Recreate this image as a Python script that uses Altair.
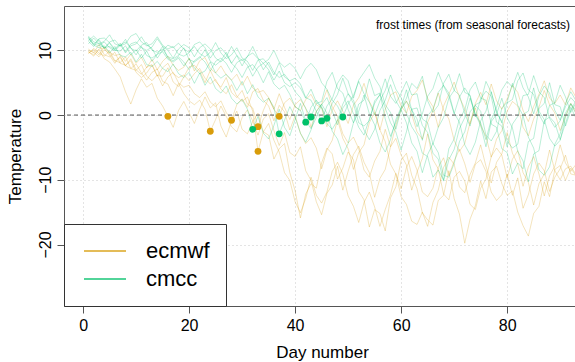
import altair as alt
import pandas as pd

# ---------------- data ----------------
days = list(range(1, 94))
models = ["ecmwf", "cmcc"]
model_colors = ["#D89C0A", "#00C16A"]

ecmwf_m1 = [9.8, 9.3, 10.1, 8.7, 8.2, 7.1, 5.9, 3.6, 1.7, 3.9,
            5.6, 4.3, 4.9, 2.6, 1.4, -0.2, -1.9, 0.7, 2.1, 0.4,
            -1.3, 0.9, 2.8, 1.1, 1.9, -1.7, -3.4, -0.9, 0.6, -2.2,
            -2.9, -1.0, 0.3, -2.6, -3.1, -6.8, -5.2, -4.4, -8.9, -11.7,
            -15.9, -12.2, -10.6, -11.3, -7.4, -5.1, -6.0, -9.9, -8.2, -5.7,
            -6.9, -11.8, -13.1, -17.3, -14.6, -15.2, -17.9, -12.8, -11.1, -7.0,
            -5.9, -9.3, -11.4, -15.1, -16.2, -17.0, -13.2, -12.4, -8.6, -12.9,
            -15.3, -19.8, -16.1, -14.0, -10.2, -12.9, -8.8, -7.9, -10.6, -12.4,
            -11.7, -15.0, -17.1, -18.7, -15.2, -14.1, -10.3, -12.6, -8.4, -7.8,
            -10.1, -8.2, -9.4]
ecmwf_m2 = [10.0, 9.7, 9.0, 10.1, 9.5, 8.3, 8.9, 7.6, 7.2, 7.9,
            6.5, 5.4, 6.6, 7.1, 5.2, 4.8, 3.0, 4.9, 3.3, 2.2,
            1.6, 2.3, 0.9, -2.5, -0.7, 1.4, -0.2, -1.8, -2.6, -0.4,
            0.8, -0.9, -3.1, -0.6, 0.2, -2.4, -4.7, -2.7, -5.8, -6.4,
            -4.9, -8.6, -10.1, -13.4, -15.4, -12.1, -10.8, -7.9, -11.6, -8.7,
            -6.1, -4.8, -7.3, -8.9, -12.7, -9.8, -8.4, -4.9, -3.6, -6.2,
            -7.7, -11.6, -8.8, -6.7, -2.9, -6.9, -8.3, -12.2, -13.1, -9.6,
            -8.7, -10.2, -13.8, -14.6, -11.3, -9.9, -6.4, -5.1, -6.2, -9.7,
            -6.8, -5.5, -8.9, -10.4, -13.9, -10.6, -9.1, -5.4, -8.6, -10.0,
            -8.3, -7.9, -9.2]
ecmwf_m3 = [9.5, 10.3, 9.6, 9.1, 9.9, 8.4, 8.1, 9.0, 7.2, 6.9,
            7.8, 6.0, 5.3, 6.2, 4.5, 5.9, 6.6, 5.0, 4.3, 4.6,
            3.3, 2.7, 3.6, 2.0, 1.3, 2.2, 0.4, -0.8, 1.6, 2.5,
            1.2, 3.6, 4.1, 2.3, 1.4, -0.9, 1.5, 0.5, -2.3, -0.1,
            -2.8, -4.4, -3.5, -5.1, -8.3, -5.4, -3.9, -0.7, -3.6, -5.2,
            -8.4, -5.8, -4.6, -1.2, 0.4, -2.3, -4.1, -7.6, -9.1, -12.6,
            -13.8, -16.4, -16.9, -15.0, -17.2, -13.5, -11.6, -8.1, -6.5, -7.6,
            -11.1, -12.0, -9.2, -7.4, -4.6, -7.9, -10.5, -7.3, -6.0, -2.7,
            -5.9, -7.6, -11.0, -8.0, -6.4, -9.1, -12.5, -9.4, -7.9, -4.6,
            -7.4, -8.7, -7.6]
ecmwf_m4 = [9.8, 9.1, 10.2, 10.4, 9.2, 8.0, 9.1, 7.6, 8.7, 7.0,
            6.3, 7.4, 7.8, 6.1, 6.0, 7.3, 5.1, 4.4, 5.9, 7.4,
            7.7, 6.8, 5.0, 6.9, 5.2, 4.3, 5.8, 3.5, 2.7, 3.8,
            1.7, 1.1, -1.8, 0.7, 2.6, 0.9, 3.3, 1.2, -0.7, 1.6,
            2.4, 1.1, -1.9, 0.6, 1.7, 3.9, 1.3, -0.2, -2.9, -4.3,
            -3.4, -5.2, -8.5, -9.6, -7.1, -5.6, -2.2, -4.9, -1.6, 0.9,
            2.2, 0.1, -2.6, -3.7, -1.1, 0.7, 3.4, 0.8, -0.6, -3.9,
            -5.6, -4.4, -1.2, 1.1, -1.6, -3.3, -6.5, -3.7, -2.4, 0.6,
            2.1, 1.4, -1.9, -3.2, -0.6, 1.2, 3.8, 1.6, 0.3, -2.4,
            -0.2, 1.8, 0.3]
ecmwf_m5 = [10.2, 9.6, 10.9, 9.3, 9.0, 9.7, 8.0, 7.7, 8.4, 6.6,
            5.8, 6.5, 7.7, 6.0, 7.3, 8.0, 6.4, 5.8, 6.2, 5.3,
            6.4, 7.2, 5.7, 4.8, 5.5, 4.0, 3.3, 4.7, 2.9, 2.1,
            2.8, 0.6, -5.6, -2.6, -1.3, -3.9, -5.7, -8.9, -10.1, -13.4,
            -15.1, -12.9, -9.6, -12.4, -13.6, -11.9, -8.7, -7.3, -9.1, -12.5,
            -14.1, -16.6, -13.5, -11.9, -14.2, -17.2, -14.6, -12.3, -9.0, -11.4,
            -8.1, -6.4, -8.5, -11.9, -12.6, -11.3, -8.1, -6.6, -9.4, -7.1,
            -5.3, -7.5, -10.4, -7.6, -6.9, -8.7, -11.9, -13.2, -12.3, -9.1,
            -12.4, -9.7, -14.4, -12.3, -9.1, -7.4, -8.6, -11.8, -9.6, -8.3,
            -6.2, -9.1, -9.3]
ecmwf_m6 = [9.6, 10.1, 9.3, 10.5, 9.7, 9.2, 9.4, 8.3, 9.4, 8.0,
            8.9, 7.3, 8.6, 7.0, 8.3, 9.1, 7.7, 6.9, 7.4, 8.8,
            6.8, 8.4, 8.9, 7.2, 6.5, 7.6, 6.2, 5.4, 6.3, 4.6,
            6.0, 4.2, 3.5, 3.8, 2.7, 0.9, -0.2, 1.9, 2.6, 1.3,
            0.7, 2.4, 3.2, 1.6, 1.1, -1.8, 0.8, 2.2, 0.6, -1.3,
            1.5, 2.7, 4.9, 2.1, 0.6, -2.3, 0.9, 3.1, 3.6, 1.4,
            0.3, 2.9, 3.8, 5.4, 2.6, 1.3, -1.9, 1.4, 3.2, 5.1,
            2.7, 1.0, -1.4, 1.8, 3.5, 1.6, 4.8, 2.2, 0.9, 2.5,
            4.6, 3.5, 0.7, -1.0, 1.3, 3.2, 5.3, 2.6, 1.8, 3.1,
            1.6, 4.2, 2.7]

cmcc_m1 = [12.0, 10.8, 10.4, 10.7, 9.6, 10.6, 9.2, 9.0, 9.7, 8.2,
           9.4, 7.8, 7.5, 8.3, 7.2, 6.7, 7.9, 6.4, 5.8, 6.6,
           4.9, 6.5, 4.6, 5.9, 4.1, 3.4, 4.5, 2.6, 1.7, 2.4,
           0.9, -2.2, -0.2, -2.8, -3.7, -1.6, 0.9, -1.9, -3.2, -0.7,
           1.8, -0.9, -2.1, -0.4, 1.6, 2.7, 0.6, -1.5, 1.1, 2.2,
           0.2, -1.9, -3.1, -0.6, 1.8, 3.2, 1.1, -1.2, -2.6, -5.4,
           -2.6, 0.9, 1.1, -1.6, -2.7, -5.9, -6.8, -10.2, -6.9, -5.3,
           -2.1, -0.4, 2.6, 0.1, -1.6, -4.9, -1.0, 0.1, 2.6, -0.4,
           -2.0, -5.6, -7.1, -10.3, -6.0, -5.5, -0.9, -0.3, -1.2, -3.8,
           -1.3, 1.2, -0.5]
cmcc_m2 = [11.5, 12.2, 11.4, 10.3, 11.1, 10.0, 9.9, 10.7, 9.3, 10.1,
           8.8, 9.9, 8.3, 9.4, 9.8, 8.6, 8.2, 8.8, 7.6, 8.7,
           7.3, 6.4, 6.8, 8.2, 6.5, 5.7, 6.3, 5.4, 3.8, 5.2,
           3.3, 4.7, 2.8, 2.0, 2.6, 1.2, -2.9, -0.8, 1.3, -0.3,
           -2.8, -4.2, -2.3, 0.5, 1.7, 0.3, -2.5, -3.7, -6.1, -4.4,
           -1.2, 0.6, 3.1, 0.2, -1.5, -4.3, -5.7, -3.8, -0.7, 1.2,
           3.9, 0.8, -0.6, -3.9, -0.1, 0.9, 3.5, 4.6, 3.4, 0.3,
           -1.1, -4.6, -6.1, -4.2, -0.9, 0.6, 3.6, 0.4, -1.0, -4.0,
           -5.1, -4.5, 0.1, 0.6, 4.2, 0.6, -0.7, -3.6, -4.8, -3.9,
           -0.3, 1.7, 0.2]
cmcc_m3 = [11.8, 10.9, 11.7, 10.3, 11.3, 11.6, 10.6, 11.7, 10.3, 9.9,
           10.8, 11.2, 10.0, 9.7, 10.2, 9.0, 8.7, 9.2, 10.4, 8.6,
           8.2, 8.8, 10.1, 8.3, 7.7, 8.4, 9.7, 8.0, 7.2, 5.8,
           7.4, 7.8, 6.7, 5.0, 6.7, 4.8, 4.0, 4.6, 3.2, 1.3,
           0.7, -1.1, 1.2, 2.3, 1.2, -1.3, -2.2, -0.8, 1.7, 3.3,
           2.3, 0.0, -2.3, -3.8, -2.2, 0.7, 2.3, 4.7, 2.2, 0.8,
           -1.2, -4.3, -5.6, -8.9, -6.1, -4.4, -5.8, -9.3, -9.6, -7.5,
           -4.1, -2.6, 0.5, 1.5, 0.6, -3.1, -4.0, -2.5, 1.1, 2.0,
           4.9, 1.5, -0.1, -3.4, -5.1, -8.5, -9.3, -8.0, -4.5, -2.9,
           0.3, 1.8, 0.7]
cmcc_m4 = [12.2, 11.3, 11.0, 11.4, 12.4, 11.0, 10.7, 11.0, 12.2, 12.6,
           11.3, 10.7, 11.0, 12.1, 10.8, 10.2, 10.6, 9.4, 9.1, 9.6,
           10.9, 11.3, 10.4, 8.8, 10.0, 10.4, 9.4, 8.0, 9.2, 7.6,
           9.1, 9.6, 8.7, 7.0, 8.2, 6.6, 5.8, 6.3, 5.2, 3.6,
           2.7, 1.0, -0.3, 1.8, 2.1, 5.2, 6.6, 4.1, 3.4, 0.9,
           -1.2, 1.7, 2.3, 5.6, 3.0, 3.4, -0.6, -3.3, -1.1, 1.0,
           2.6, 4.9, 4.1, 6.0, 2.2, 0.4, 1.5, 4.9, 6.3, 3.8,
           3.1, 0.2, -1.7, 1.6, 2.0, 5.2, 3.5, 0.6, -1.2, 1.9,
           2.4, 5.3, 6.5, 3.9, 3.2, 0.1, -1.4, 1.5, 1.9, 4.6,
           2.8, 0.4, 1.9]
cmcc_m5 = [11.0, 11.9, 11.0, 10.4, 10.6, 10.1, 10.9, 9.6, 10.7, 11.0,
           12.1, 10.8, 10.3, 8.8, 10.0, 10.8, 10.4, 11.1, 10.2, 9.7,
           10.6, 9.5, 9.0, 9.7, 11.2, 9.6, 8.7, 9.3, 10.4, 8.8,
           8.3, 6.9, 8.5, 8.7, 7.7, 6.2, 8.1, 5.9, 5.3, 5.7,
           4.8, 2.7, 2.3, 0.6, -0.9, 1.4, 2.5, 4.9, 6.2, 5.3,
           2.6, 5.4, 6.6, 7.8, 5.7, 4.4, 1.6, 0.4, -2.2, 0.9,
           2.1, 0.9, -1.8, 0.2, 2.9, 4.1, 6.6, 4.5, 2.9, 0.2,
           2.8, 4.2, 2.9, 0.1, -1.2, -3.8, -0.7, 1.2, 3.9, 5.2,
           4.3, 6.6, 4.2, 2.8, 0.2, 2.9, 4.5, 3.4, 0.7, -0.8,
           1.3, 2.7, 1.8]
cmcc_m6 = [12.0, 11.0, 10.7, 11.3, 10.4, 9.9, 10.8, 11.3, 10.4, 9.3,
           10.6, 9.2, 8.8, 9.4, 10.6, 8.8, 8.4, 9.0, 8.2, 7.0,
           8.4, 9.0, 8.2, 6.8, 8.3, 8.8, 8.0, 6.6, 8.1, 8.6,
           7.7, 6.0, 7.4, 8.0, 7.0, 5.4, 6.8, 5.0, 4.4, 5.0,
           4.2, 2.6, 4.0, 2.0, 1.2, -0.5, 1.8, 3.2, 5.7, 3.3,
           1.8, -1.2, -1.7, -0.9, 2.2, 3.1, 5.6, 2.9, 1.8, 3.4,
           5.2, 3.1, 3.3, -0.6, -1.2, -4.5, -1.9, -0.4, 2.6, 3.8,
           6.4, 3.5, 3.1, -0.3, 2.5, 3.7, 2.9, -1.1, -1.7, -4.9,
           -1.4, -0.2, 3.0, 3.2, 6.1, 3.6, 2.7, -0.5, -1.9, -0.9,
           1.8, 3.6, 2.2]
cmcc_m7 = [11.4, 10.6, 11.8, 11.9, 11.2, 10.2, 11.1, 9.8, 11.0, 11.3,
           10.4, 10.0, 10.5, 11.8, 10.6, 10.0, 8.8, 10.2, 10.9, 10.4,
           9.0, 10.4, 11.0, 10.2, 8.8, 8.2, 9.0, 10.6, 9.2, 8.4,
           9.0, 10.6, 8.8, 8.0, 8.6, 10.0, 8.2, 7.4, 8.0, 7.2,
           5.6, 7.2, 8.0, 7.0, 5.0, 4.0, 2.3, 1.4, -0.3, 1.7,
           3.0, 5.2, 3.3, 2.0, 0.0, 2.2, 3.8, 6.2, 4.0, 2.7,
           0.3, -1.8, -3.1, -5.9, -6.4, -9.6, -8.5, -10.0, -5.2, -3.7,
           -0.6, 0.8, 3.9, 5.1, 2.6, 2.3, -1.4, -1.9, -5.2, -5.8,
           -9.1, -7.4, -8.3, -4.1, -3.6, 1.0, 1.8, 5.0, 1.6, 1.3,
           -1.7, 0.7, 2.3]

# frost times (first day below zero) per member
ecmwf_frost_day = [16, 24, 28, 33, 33, 37]
ecmwf_frost_temp = [-0.2, -2.5, -0.8, -1.8, -5.6, -0.2]
cmcc_frost_day = [32, 37, 42, 43, 45, 46, 49]
cmcc_frost_temp = [-2.2, -2.9, -1.1, -0.3, -0.9, -0.5, -0.3]

x_ticks = [0, 20, 40, 60, 80]
y_ticks = [10, 0, -10, -20]

# ---------------- tables ----------------
members = {
    "ecmwf": [ecmwf_m1, ecmwf_m2, ecmwf_m3, ecmwf_m4, ecmwf_m5, ecmwf_m6],
    "cmcc": [cmcc_m1, cmcc_m2, cmcc_m3, cmcc_m4, cmcc_m5, cmcc_m6, cmcc_m7],
}
rows = []
for model, series_list in members.items():
    for i, series in enumerate(series_list):
        if len(series) != len(days):
            raise ValueError(f"{model} member {i+1} has {len(series)} values")
        for d, t in zip(days, series):
            rows.append({"model": model, "member": f"{model}{i+1}", "day": d, "temp": t})
lines_df = pd.DataFrame(rows)

pts = []
for d, t in zip(ecmwf_frost_day, ecmwf_frost_temp):
    pts.append({"model": "ecmwf", "day": d, "temp": t})
for d, t in zip(cmcc_frost_day, cmcc_frost_temp):
    pts.append({"model": "cmcc", "day": d, "temp": t})
pts_df = pd.DataFrame(pts)

FONT = "Liberation Sans"
x_scale = alt.Scale(domain=[-3.6, 92.8], nice=False, zero=False)
y_scale = alt.Scale(domain=[-29.5, 16.85], nice=False, zero=False)
color_scale = alt.Scale(domain=models, range=model_colors)

x_axis = alt.Axis(values=x_ticks, title="Day number", grid=True, gridDash=[1, 3],
                  gridColor="#c8c8c8", domain=False, tickSize=7, tickColor="#555555",
                  labelFont=FONT, labelFontSize=16, labelColor="black", labelPadding=4,
                  titleFont=FONT, titleFontSize=17, titleFontWeight="normal", titleColor="black",
                  titleY=46, titleX=258, titleBaseline="middle", titleAlign="center")
y_axis = alt.Axis(values=y_ticks, title="Temperature", grid=True, gridDash=[1, 3],
                  gridColor="#c8c8c8", domain=False, tickSize=7, tickColor="#555555",
                  labelFont=FONT, labelFontSize=16, labelColor="black", labelAngle=-90,
                  labelAlign="center", labelBaseline="alphabetic", labelPadding=7,
                  titleFont=FONT, titleFontSize=17, titleFontWeight="normal", titleColor="black",
                  titleX=-49, titleY=150, titleBaseline="middle", titleAlign="center", titleAngle=-90)

legend = alt.Legend(title=None, orient="none", legendX=0, legendY=218, direction="vertical",
                    fillColor="white", strokeColor="#333333", padding=16, rowPadding=6,
                    symbolType="M-21,0H21", symbolSize=4, symbolStrokeWidth=1.5,
                    symbolOffset=14, labelOffset=30, labelFontSize=22, labelFont=FONT,
                    labelColor="black", symbolOpacity=0.9)

lines = alt.Chart(lines_df).mark_line(strokeWidth=1, opacity=0.27, clip=True).encode(
    x=alt.X("day:Q", scale=x_scale, axis=x_axis),
    y=alt.Y("temp:Q", scale=y_scale, axis=y_axis),
    color=alt.Color("model:N", scale=color_scale, legend=legend),
    detail="member:N",
)

zero = alt.Chart(pd.DataFrame({"y": [0]})).mark_rule(
    color="#555555", strokeWidth=1, strokeDash=[4, 3]).encode(
    y=alt.Y("y:Q", scale=y_scale, axis=y_axis))

points = alt.Chart(pts_df).mark_circle(size=46, opacity=1).encode(
    x=alt.X("day:Q", scale=x_scale, axis=x_axis),
    y=alt.Y("temp:Q", scale=y_scale, axis=y_axis),
    color=alt.Color("model:N", scale=color_scale, legend=None),
)

note = alt.Chart(pd.DataFrame({"t": ["frost times (from seasonal forecasts)"]})).mark_text(
    align="right", baseline="middle", font=FONT, fontSize=12, color="black").encode(
    text="t:N", x=alt.value(506), y=alt.value(19))

chart = alt.layer(lines, zero, points, note).properties(
    width=511, height=300,
    autosize=alt.AutoSizeParams(type="none"),
    padding={"left": 64, "top": 6, "right": 0, "bottom": 56},
    background="white",
).configure_view(stroke="#555555", strokeWidth=1)

chart.save("out.html", embed_options={"renderer": "svg", "actions": False})
